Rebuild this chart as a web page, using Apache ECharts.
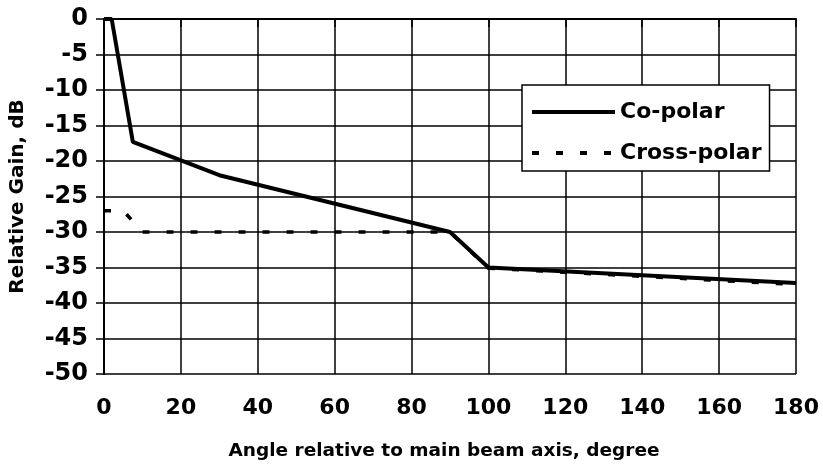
<!DOCTYPE html>
<html>
<head>
<meta charset="utf-8">
<script src="https://cdn.jsdelivr.net/npm/echarts@6/dist/echarts.min.js"></script>
<style>
html,body{margin:0;padding:0;background:#fff;}
#chart{width:823px;height:471px;}
</style>
</head>
<body>
<div id="chart"></div>
<script>
// Data
var coPolarAngles = [0, 2, 7.5, 30, 90, 100, 180];
var coPolarGain   = [0, 0, -17.3, -22, -30, -35, -37.2];
var crossPolarAngles = [0, 5, 10, 90, 100, 180];
var crossPolarGain   = [-27, -27, -30, -30, -35.1, -37.4];
var seriesNames = ['Co-polar', 'Cross-polar'];
var xAxisTitle = 'Angle relative to main beam axis, degree';
var yAxisTitle = 'Relative Gain, dB';

function pairs(xs, ys) {
  var out = [];
  for (var i = 0; i < xs.length; i++) out.push([xs[i], ys[i]]);
  return out;
}

var FONT = '"DejaVu Sans", "Liberation Sans", Arial, sans-serif';
var chart = echarts.init(document.getElementById('chart'), null, {renderer: 'canvas'});
chart.setOption({
  animation: false,
  backgroundColor: '#ffffff',
  grid: {left: 104, right: 27, top: 19, bottom: 97, containLabel: false},
  legend: {
    data: seriesNames,
    orient: 'vertical',
    left: 522,
    top: 85,
    backgroundColor: '#ffffff',
    borderColor: '#000000',
    borderWidth: 1.5,
    borderRadius: 0,
    padding: [16, 8, 7, 8],
    itemWidth: 83,
    itemHeight: 20,
    itemGap: 19,
    itemStyle: {opacity: 0, borderWidth: 0},
    lineStyle: {width: 4},
    textStyle: {color: '#000', fontFamily: FONT, fontWeight: 'bold', fontSize: 22}
  },
  xAxis: {
    type: 'value',
    min: 0, max: 180, interval: 20,
    name: xAxisTitle,
    nameLocation: 'middle',
    nameGap: 68,
    nameTextStyle: {color: '#000', fontFamily: FONT, fontWeight: 'bold', fontSize: 18.5, padding: [0, 12, 0, 0]},
    axisLine: {show: true, lineStyle: {color: '#000', width: 2}},
    axisTick: {show: true, inside: false, length: 8, lineStyle: {color: '#000', width: 1.5}},
    axisLabel: {color: '#000', fontFamily: FONT, fontWeight: 'bold', fontSize: 22, margin: 23},
    splitLine: {show: true, lineStyle: {color: '#000', width: 1.5}}
  },
  yAxis: {
    type: 'value',
    min: -50, max: 0, interval: 5,
    name: yAxisTitle,
    nameLocation: 'middle',
    nameGap: 76,
    nameRotate: 90,
    nameTextStyle: {color: '#000', fontFamily: FONT, fontWeight: 'bold', fontSize: 20},
    axisLine: {show: true, onZero: false, lineStyle: {color: '#000', width: 2}},
    axisTick: {show: true, inside: false, length: 8, lineStyle: {color: '#000', width: 1.5}},
    axisLabel: {color: '#000', fontFamily: FONT, fontWeight: 'bold', fontSize: 24, margin: 16},
    splitLine: {show: true, lineStyle: {color: '#000', width: 1.5}}
  },
  series: [
    {
      name: seriesNames[1],
      type: 'line',
      data: pairs(crossPolarAngles, crossPolarGain),
      symbol: 'none',
      z: 3,
      lineStyle: {color: '#000', width: 3.5, type: [7, 17]},
      itemStyle: {color: '#000'}
    },
    {
      name: seriesNames[0],
      type: 'line',
      data: pairs(coPolarAngles, coPolarGain),
      symbol: 'none',
      z: 4,
      lineStyle: {color: '#000', width: 4, type: 'solid'},
      itemStyle: {color: '#000'}
    }
  ]
});
</script>
</body>
</html>
